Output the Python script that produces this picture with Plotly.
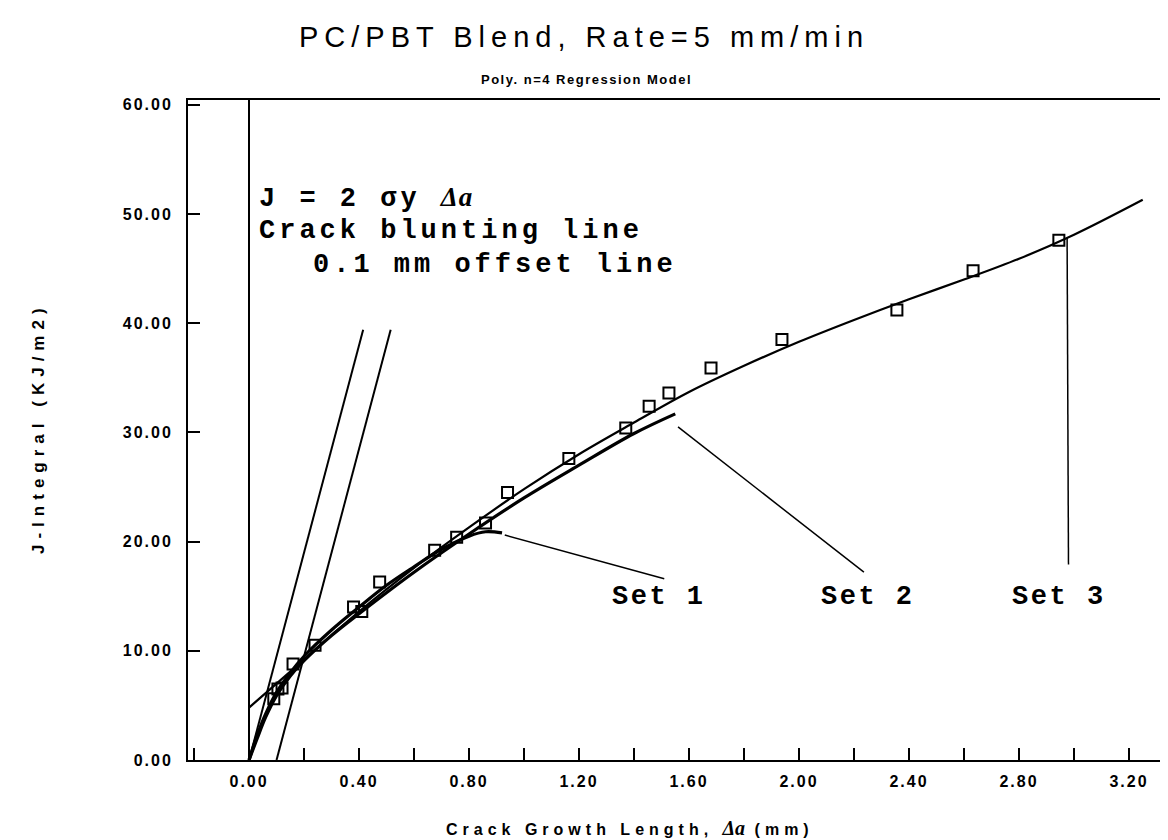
import plotly.graph_objects as go

# ---------------- data ----------------
x_tick_vals = [0.0, 0.4, 0.8, 1.2, 1.6, 2.0, 2.4, 2.8, 3.2]
x_tick_text = ["0.00", "0.40", "0.80", "1.20", "1.60", "2.00", "2.40", "2.80", "3.20"]
y_tick_vals = [0, 10, 20, 30, 40, 50, 60]
y_tick_text = ["0.00", "10.00", "20.00", "30.00", "40.00", "50.00", "60.00"]

# measured data points (open squares)
set1_pts_x = [0.09, 0.16, 0.41, 0.675, 0.86]
set1_pts_y = [5.6, 8.8, 13.6, 19.2, 21.7]
set2_pts_x = [0.105, 0.24, 0.475, 0.755, 0.94, 1.163, 1.37, 1.527]
set2_pts_y = [6.5, 10.5, 16.3, 20.4, 24.5, 27.6, 30.4, 33.6]
set3_pts_x = [0.12, 0.38, 1.455, 1.68, 1.938, 2.356, 2.633, 2.945]
set3_pts_y = [6.6, 14.0, 32.4, 35.9, 38.5, 41.2, 44.8, 47.6]

# polynomial (n=4) regression curves
set1_fit_x = [0.0, 0.03, 0.06, 0.1, 0.15, 0.2, 0.3, 0.4, 0.5, 0.6, 0.7, 0.8, 0.86, 0.92]
set1_fit_y = [0.0, 2.3, 4.2, 6.2, 8.0, 9.5, 11.9, 14.0, 16.0, 17.7, 19.3, 20.5, 20.9, 20.8]
set2_fit_x = [0.0, 0.03, 0.06, 0.1, 0.15, 0.2, 0.3, 0.4, 0.6, 0.8, 1.0, 1.2, 1.4, 1.55]
set2_fit_y = [0.0, 2.0, 3.9, 5.9, 7.7, 9.1, 11.4, 13.4, 17.2, 20.7, 24.0, 27.0, 29.9, 31.7]
set3_fit_x = [0.0, 0.1, 0.2, 0.4, 0.6, 0.8, 1.0, 1.2, 1.4, 1.6, 1.8, 2.0, 2.2, 2.4, 2.6, 2.8, 3.0, 3.25]
set3_fit_y = [4.8, 7.0, 9.2, 13.6, 17.6, 21.3, 24.8, 28.0, 30.9, 33.7, 36.1, 38.3, 40.3, 42.2, 44.0, 45.9, 48.1, 51.3]

# blunting line and 0.1 mm offset line
blunt_x = [0.0, 0.415]
blunt_y = [0.0, 39.4]
offset_x = [0.1, 0.515]
offset_y = [0.0, 39.4]

# leader lines to the set labels
lead1_x = [0.93, 1.51]
lead1_y = [20.6, 16.6]
lead2_x = [1.56, 2.236]
lead2_y = [30.5, 17.2]
lead3_x = [2.975, 2.98]
lead3_y = [47.8, 17.9]

set_label_x = [1.49, 2.25, 2.945]
set_label_y = [14.9, 14.9, 14.9]
set_label_text = ["Set 1", "Set 2", "Set 3"]

# ---------------- figure ----------------
fig = go.Figure()
BLACK = "black"


def line(x, y, w):
    fig.add_trace(go.Scatter(x=x, y=y, mode="lines",
                             line=dict(color=BLACK, width=w, shape="spline"),
                             showlegend=False, hoverinfo="skip"))


line(blunt_x, blunt_y, 2)
line(offset_x, offset_y, 2)
line(set3_fit_x, set3_fit_y, 2.2)
line(set2_fit_x, set2_fit_y, 3.2)
line(set1_fit_x, set1_fit_y, 3.2)
line(lead1_x, lead1_y, 1.5)
line(lead2_x, lead2_y, 1.5)
line(lead3_x, lead3_y, 1.5)

for px, py in [(set1_pts_x, set1_pts_y), (set2_pts_x, set2_pts_y), (set3_pts_x, set3_pts_y)]:
    fig.add_trace(go.Scatter(x=px, y=py, mode="markers",
                             marker=dict(symbol="square-open", size=11, color=BLACK,
                                         line=dict(width=2, color=BLACK)),
                             showlegend=False, hoverinfo="skip"))

fig.add_trace(go.Scatter(x=set_label_x, y=set_label_y, mode="text",
                         text=["<span style='letter-spacing:2.5px'>%s</span>" % t for t in set_label_text],
                         textposition="middle center",
                         textfont=dict(family="Liberation Mono", size=27, color=BLACK, weight="bold"),
                         showlegend=False, hoverinfo="skip"))

SP = "<span style='letter-spacing:4px'>{}</span>"
DA = "<span style='font-family:Liberation Serif;letter-spacing:1px'><i>Δa</i></span>"
mono = dict(family="Liberation Mono", size=27, color=BLACK, weight="bold")
fig.add_annotation(x=0.03, y=51.5, xref="x", yref="y", xanchor="left", yanchor="middle",
                   text=SP.format("J = 2 σy ") + DA, showarrow=False, font=mono)
fig.add_annotation(x=0.03, y=48.4, xref="x", yref="y", xanchor="left", yanchor="middle",
                   text=SP.format("Crack blunting line"), showarrow=False, font=mono)
fig.add_annotation(x=0.225, y=45.3, xref="x", yref="y", xanchor="left", yanchor="middle",
                   text=SP.format("0.1 mm offset line"), showarrow=False, font=mono)

# titles (plot area spans pixels x 180..1168, y 92..752)
fig.add_annotation(x=(576 - 180) / 988, y=(752 - 29) / 660, xref="paper", yref="paper",
                   xanchor="center", yanchor="middle", showarrow=False,
                   text="<span style='letter-spacing:6px'>PC/PBT Blend, Rate=5 mm/min</span>",
                   font=dict(family="Liberation Sans", size=29, color=BLACK))
fig.add_annotation(x=(578 - 180) / 988, y=(752 - 71) / 660, xref="paper", yref="paper",
                   xanchor="center", yanchor="middle", showarrow=False,
                   text="<span style='letter-spacing:1.5px'>Poly. n=4 Regression Model</span>",
                   font=dict(family="Liberation Sans", size=13, color=BLACK, weight="bold"))
fig.add_annotation(x=(30 - 180) / 988, y=(752 - 420) / 660, xref="paper", yref="paper",
                   xanchor="center", yanchor="middle", showarrow=False, textangle=-90,
                   text="<span style='letter-spacing:6px'>J-Integral (KJ/m2)</span>",
                   font=dict(family="Liberation Sans", size=17, color=BLACK, weight="bold"))
fig.add_annotation(x=(622 - 180) / 988, y=(752 - 820) / 660, xref="paper", yref="paper",
                   xanchor="center", yanchor="middle", showarrow=False,
                   text="<span style='letter-spacing:5px'>Crack Growth Length, </span>"
                        "<span style='font-family:Liberation Serif;font-size:20px'><i>Δa</i></span>"
                        "<span style='letter-spacing:5px'> (mm)</span>",
                   font=dict(family="Liberation Sans", size=16, color=BLACK, weight="bold"))

fig.update_layout(
    width=1168, height=840,
    margin=dict(l=180, r=0, t=92, b=88),
    paper_bgcolor="white", plot_bgcolor="white",
    font=dict(family="Liberation Sans", color=BLACK),
)

fig.update_xaxes(
    range=[-0.222, 3.371], tickvals=x_tick_vals,
    ticktext=["<span style='letter-spacing:2px'>%s</span>" % t for t in x_tick_text],
    ticks="inside", ticklen=12, tickwidth=2, tickcolor=BLACK, ticklabelstandoff=6,
    minor=dict(ticks="inside", ticklen=12, tickwidth=2, tickcolor=BLACK, dtick=0.2, tick0=0),
    showline=True, linecolor=BLACK, linewidth=2, mirror=True,
    showgrid=False, zeroline=True, zerolinecolor=BLACK, zerolinewidth=2,
    tickfont=dict(family="Liberation Sans", size=16, color=BLACK, weight="bold"),
)
fig.update_yaxes(
    range=[0, 60.44], tickvals=y_tick_vals,
    ticktext=["<span style='letter-spacing:2px'>%s</span>" % t for t in y_tick_text],
    ticks="inside", ticklen=12, tickwidth=2, tickcolor=BLACK, ticklabelstandoff=10,
    showline=True, linecolor=BLACK, linewidth=2,
    showgrid=False, zeroline=False,
    tickfont=dict(family="Liberation Sans", size=16, color=BLACK, weight="bold"),
)

fig.write_html("out.html")
